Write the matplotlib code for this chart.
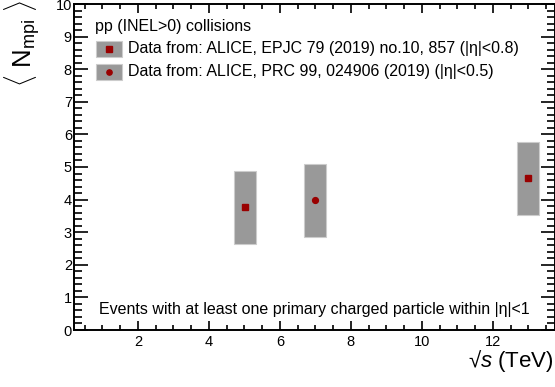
import matplotlib

matplotlib.use("Agg")
import matplotlib.pyplot as plt
from matplotlib.patches import Rectangle
from matplotlib.ticker import MultipleLocator

plt.rcParams["font.family"] = ["Liberation Sans", "DejaVu Sans"]
plt.rcParams["mathtext.fontset"] = "custom"
plt.rcParams["mathtext.rm"] = "Liberation Sans"
plt.rcParams["mathtext.it"] = "Liberation Sans:italic"

# ALICE <N_mpi> values
energy_epjc = [5.02, 13.0]
nmpi_epjc = [3.76, 4.66]
syst_epjc = [1.12, 1.12]

energy_prc = [7.0]
nmpi_prc = [3.98]
syst_prc = [1.12]

label_epjc = "Data from: ALICE, EPJC 79 (2019) no.10, 857 (|η|<0.8)"
label_prc = "Data from: ALICE, PRC 99, 024906 (2019) (|η|<0.5)"

box_half = 0.31
gray = "#999999"
edge = "#cccccc"
red = "#990000"

fig = plt.figure(figsize=(5.55, 3.87), dpi=100)
ax = fig.add_axes([74 / 555, 57 / 387, 481 / 555, 326 / 387])

for xs, ys, es in ((energy_epjc, nmpi_epjc, syst_epjc), (energy_prc, nmpi_prc, syst_prc)):
    for x, y, e in zip(xs, ys, es):
        ax.add_patch(Rectangle((x - box_half, y - e), 2 * box_half, 2 * e,
                               facecolor=gray, edgecolor=edge, lw=0.8, zorder=2))
ax.plot(energy_epjc, nmpi_epjc, ls="none", marker="s", ms=4.5, color=red, zorder=3)
ax.plot(energy_prc, nmpi_prc, ls="none", marker="o", ms=4.2, color=red, zorder=3)

ax.set_xlim(0.2, 13.75)
ax.set_ylim(0, 10)
ax.xaxis.set_major_locator(MultipleLocator(2))
ax.xaxis.set_minor_locator(MultipleLocator(0.5))
ax.yaxis.set_major_locator(MultipleLocator(1))
ax.yaxis.set_minor_locator(MultipleLocator(0.2))
ax.tick_params(which="both", direction="in", top=True, right=True, labelsize=10.5, width=1.2)
ax.tick_params(axis="x", which="major", length=6.5, pad=3.5)
ax.tick_params(axis="x", which="minor", length=3.5)
ax.tick_params(axis="y", which="major", length=10, pad=1.5)
ax.tick_params(axis="y", which="minor", length=5.5)
for s in ax.spines.values():
    s.set_linewidth(1.4)

# legend drawn by hand, ROOT style
ax.text(0.044, 0.932, "pp (INEL>0) collisions", transform=ax.transAxes, fontsize=11.5, va="center")
for yc, lab, mk in ((0.862, label_epjc, "s"), (0.792, label_prc, "o")):
    ax.add_patch(Rectangle((0.046, yc - 0.025), 0.053, 0.05, transform=ax.transAxes,
                           facecolor=gray, edgecolor=edge, lw=0.8, clip_on=False))
    ax.plot([0.0725], [yc], transform=ax.transAxes, marker=mk, ms=4.2 if mk == "s" else 3.8,
            color=red, ls="none", clip_on=False)
    ax.text(0.112, yc, lab, transform=ax.transAxes, fontsize=11.5, va="center")

ax.text(0.052, 0.062, "Events with at least one primary charged particle within |η|<1",
        transform=ax.transAxes, fontsize=11.5, va="center")

fig.text(0.998, 20 / 387, "√$\\it{s}$ (TeV)", ha="right", va="baseline", fontsize=16)
fig.text(0.04, 0.999, r"$\langle$ N$_{\rm mpi}$ $\rangle$", rotation=90, ha="center", va="top", fontsize=18.5)

fig.savefig("out.png", dpi=100)
